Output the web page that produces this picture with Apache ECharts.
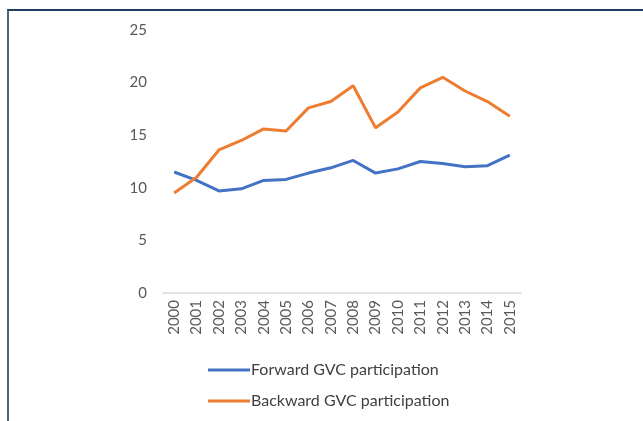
<!DOCTYPE html>
<html><head><meta charset="utf-8">
<script src="https://cdn.jsdelivr.net/npm/echarts@6/dist/echarts.min.js"></script>
<style>html,body{margin:0;padding:0;background:#fff}
#frame{position:absolute;left:7px;top:9px;width:636px;height:412px;border-top:2px solid #1f3d5c;border-left:2px solid #4a6580;box-sizing:border-box}
#c{width:643px;height:421px;position:absolute;left:0;top:0}</style>
</head><body><div id="frame"></div><div id="c"></div>
<script>
const years = ['2000','2001','2002','2003','2004','2005','2006','2007','2008','2009','2010','2011','2012','2013','2014','2015'];
const forward = [11.5,10.7,9.7,9.9,10.7,10.8,11.4,11.9,12.6,11.4,11.8,12.5,12.3,12.0,12.1,13.1];
const backward = [9.5,11.0,13.6,14.5,15.6,15.4,17.6,18.2,19.7,15.7,17.2,19.5,20.5,19.2,18.2,16.8];
const yTicks = [0,5,10,15,20,25];
const font = 'Lato, "Liberation Sans", sans-serif';
const chart = echarts.init(document.getElementById('c'));
chart.setOption({
  animation:false,
  textStyle:{fontFamily:font},
  grid:{left:163,right:122,top:30,bottom:128},
  legend:{orient:'vertical',left:203,top:357,itemWidth:42,itemHeight:3,itemGap:15,
    icon:'rect',
    textStyle:{fontFamily:font,fontSize:16,color:'#404040',padding:[0,0,0,-4]},
    data:['Forward GVC participation','Backward GVC participation']},
  xAxis:{type:'category',data:years,boundaryGap:true,
    axisLine:{lineStyle:{color:'#d9d9d9',width:1.5}},axisTick:{show:false},
    axisLabel:{rotate:90,fontSize:15,color:'#595959',margin:7,fontFamily:font}},
  yAxis:{type:'value',min:yTicks[0],max:yTicks[yTicks.length-1],interval:5,
    splitLine:{show:false},axisLine:{show:false},axisTick:{show:false},
    axisLabel:{fontSize:15,color:'#595959',margin:16,fontFamily:font}},
  series:[
    {name:'Forward GVC participation',type:'line',data:forward,symbol:'none',
      lineStyle:{color:'#4472C4',width:3},itemStyle:{color:'#4472C4'}},
    {name:'Backward GVC participation',type:'line',data:backward,symbol:'none',
      lineStyle:{color:'#ED7D31',width:3},itemStyle:{color:'#ED7D31'}}
  ]
});
</script></body></html>
